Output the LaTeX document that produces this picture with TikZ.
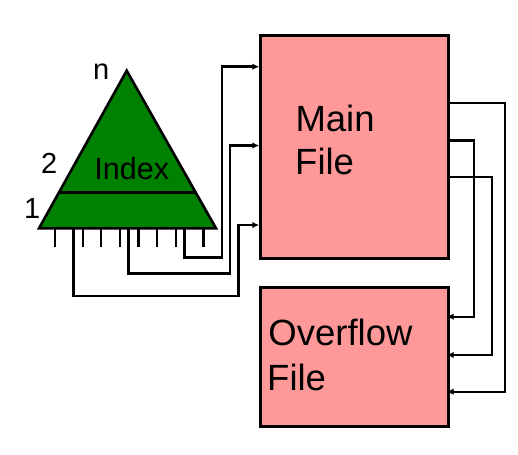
\documentclass[tikz,border=0pt]{standalone}
\usepackage{fontspec}
\setmainfont{Liberation Sans}
\usetikzlibrary{arrows.meta}
\definecolor{idxgreen}{RGB}{0,128,0}
\definecolor{filepink}{RGB}{255,153,153}
\begin{document}
\begin{tikzpicture}[x=1pt,y=-1pt,
  filebox/.style={draw=black, fill=filepink, line width=3pt, inner sep=0pt, anchor=north west},
  conn/.style={line width=2.4pt, -{Latex[length=7pt,width=6.5pt]}},
  tick/.style={line width=2.4pt},
  bigtext/.style={anchor=base west, inner sep=0pt, font=\fontsize{36.5}{43}\selectfont},
  smalltext/.style={anchor=base west, inner sep=0pt, font=\fontsize{29}{34}\selectfont}]
\useasboundingbox (0,0) rectangle (518,454);
% index triangle
\coordinate (apex) at (126.7,70.7);
\coordinate (bl) at (39,228.3);
\coordinate (br) at (216,228.3);
\filldraw[fill=idxgreen, draw=black, line width=2.6pt, line join=miter] (apex) -- (br) -- (bl) -- cycle;
\draw[line width=2.6pt] (59.3,192.3) -- (195.7,192.3);
\node[anchor=base west, inner sep=0pt, font=\fontsize{30.5}{34}\selectfont] (idx) at (94.2,179.3) {Index};
\node[smalltext] (ln) at (93,79.3) {n};
\node[smalltext] (l2) at (41,173.3) {2};
\node[smalltext] (l1) at (23.8,218.3) {1};
% ticks
\foreach \x in {55,82.7,101,120,138.3,156.7,175.7,203.3}
  \draw[tick] (\x,228.3) -- (\x,246.7);
\coordinate (t1) at (73.3,228.3);
\coordinate (t2) at (128.3,228.3);
\coordinate (t3) at (184.3,228.3);
% files
\node[filebox, minimum width=187.4pt, minimum height=223.3pt] (main) at (259.3,34) {};
\node[filebox, minimum width=187.4pt, minimum height=139.3pt] (over) at (259.3,285.7) {};
\node[bigtext] (mt1) at (295.3,131.7) {Main};
\node[bigtext] (mt2) at (295,175) {File};
\node[bigtext] (ot1) at (268.2,345) {Overflow};
\node[bigtext] (ot2) at (267,390) {File};
% index to main
\coordinate (m1) at (259.3,66.7);
\coordinate (m2) at (259.3,145.5);
\coordinate (m3) at (259.3,225);
\draw[conn] (t3) |- (221.7,257.3) |- (m1);
\draw[conn] (t2) |- (230,273.3) |- (m2);
\draw[conn] (t1) |- (238.3,295.7) |- (m3);
% main to overflow
\coordinate (s1) at (446.7,103.3);
\coordinate (s2) at (446.7,140.7);
\coordinate (s3) at (446.7,177.3);
\coordinate (o1) at (446.7,316.7);
\coordinate (o2) at (446.7,355);
\coordinate (o3) at (446.7,391.7);
\draw[conn] (s2) -| (474,316.7) -- (o1);
\draw[conn] (s3) -| (491.7,355) -- (o2);
\draw[conn] (s1) -| (505,391.7) -- (o3);
\end{tikzpicture}
\end{document}
